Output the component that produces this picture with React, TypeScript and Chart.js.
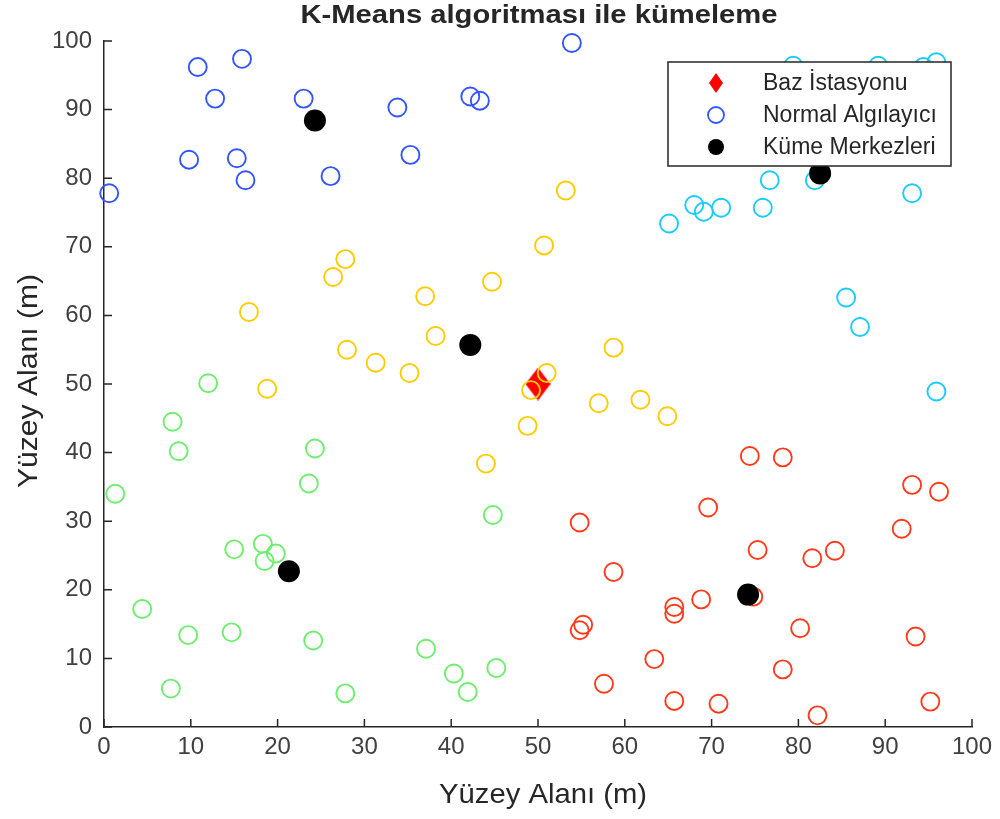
import { useEffect, useRef } from "react";
import { Chart, registerables } from "chart.js";

Chart.register(...registerables);

// Normal sensors, grouped by the cluster they were assigned to
const blueX = [0.6, 10.8, 15.9, 12.8, 9.8, 15.3, 16.3, 23.0, 26.1, 33.8, 35.3, 42.2, 43.3, 53.9];
const blueY = [77.8, 96.2, 97.4, 91.6, 82.7, 82.9, 79.7, 91.6, 80.3, 90.3, 83.4, 91.9, 91.3, 99.7];

const cyanX = [79.4, 89.2, 94.4, 95.9, 76.7, 81.9, 93.1, 68.0, 69.1, 71.1, 75.9, 65.1, 85.5, 87.1, 95.9];
const cyanY = [96.4, 96.4, 96.2, 96.9, 79.7, 79.7, 77.8, 76.1, 75.1, 75.7, 75.7, 73.4, 62.6, 58.3, 48.9];

const yellowX = [53.2, 50.7, 27.8, 26.4, 44.7, 37.0, 16.7, 38.2, 28.0, 31.3, 35.2, 18.8, 51.0, 49.2, 48.8, 57.0, 58.7, 61.8, 64.9, 44.0];
const yellowY = [78.2, 70.2, 68.2, 65.6, 64.9, 62.8, 60.5, 57.0, 55.0, 53.1, 51.6, 49.3, 51.6, 49.1, 43.9, 47.2, 55.3, 47.7, 45.3, 38.4];

const greenX = [12.0, 7.9, 8.6, 24.3, 23.6, 1.3, 44.8, 15.0, 18.3, 19.8, 18.5, 4.4, 9.7, 14.7, 24.1, 37.1, 40.3, 45.2, 41.9, 7.7, 27.8];
const greenY = [50.1, 44.5, 40.2, 40.6, 35.5, 34.0, 30.9, 25.9, 26.7, 25.3, 24.2, 17.2, 13.4, 13.8, 12.6, 11.4, 7.8, 8.6, 5.1, 5.6, 4.9];

const redX = [74.4, 78.2, 93.1, 96.2, 69.6, 54.8, 91.9, 75.3, 84.2, 81.6, 58.7, 74.8, 68.8, 65.7, 65.7, 55.2, 54.8, 80.2, 93.5, 63.4, 78.2, 57.6, 65.7, 70.8, 95.2, 82.2];
const redY = [39.5, 39.3, 35.3, 34.3, 32.0, 29.8, 28.9, 25.8, 25.7, 24.6, 22.6, 19.0, 18.6, 17.5, 16.5, 14.9, 14.1, 14.4, 13.2, 9.9, 8.4, 6.3, 3.8, 3.4, 3.7, 1.7];

// Cluster centres and base station
const centerX = [24.3, 82.5, 42.2, 21.3, 74.2];
const centerY = [88.4, 80.7, 55.7, 22.7, 19.3];
const baseX = [50];
const baseY = [50];

const axisTicks = [0, 10, 20, 30, 40, 50, 60, 70, 80, 90, 100];

const TITLE = "K-Means algoritması ile kümeleme";
const X_LABEL = "Yüzey Alanı (m)";
const Y_LABEL = "Yüzey Alanı (m)";
const LEGEND_LABELS = ["Baz İstasyonu", "Normal Algılayıcı", "Küme Merkezleri"];

const FONT = "'Liberation Sans', Arial, Helvetica, sans-serif";
const AXIS_COLOR = "#262626";

const zip = (xs: number[], ys: number[]) => xs.map((x, i) => ({ x, y: ys[i] }));

function diamond(w: number, h: number, color: string) {
  const c = document.createElement("canvas");
  c.width = w;
  c.height = h;
  const g = c.getContext("2d")!;
  g.fillStyle = color;
  g.beginPath();
  g.moveTo(w / 2, 0);
  g.lineTo(w, h / 2);
  g.lineTo(w / 2, h);
  g.lineTo(0, h / 2);
  g.closePath();
  g.fill();
  return c;
}

// text stretched horizontally to a given width, centred on (cx, cy)
function fitText(
  ctx: CanvasRenderingContext2D,
  text: string,
  cx: number,
  cy: number,
  font: string,
  width: number,
  angle = 0
) {
  ctx.save();
  ctx.font = font;
  ctx.fillStyle = AXIS_COLOR;
  ctx.textAlign = "center";
  ctx.textBaseline = "middle";
  const natural = ctx.measureText(text).width;
  ctx.translate(cx, cy);
  ctx.rotate(angle);
  ctx.scale(width / natural, 1);
  ctx.fillText(text, 0, 0);
  ctx.restore();
}

const decorations = {
  id: "decorations",
  afterDraw(chart: any) {
    const ctx: CanvasRenderingContext2D = chart.ctx;
    const { x, y } = chart.scales;
    const area = chart.chartArea;

    // inward tick marks
    ctx.save();
    ctx.strokeStyle = AXIS_COLOR;
    ctx.lineWidth = 1.5;
    ctx.beginPath();
    for (const t of axisTicks) {
      const px = x.getPixelForValue(t);
      ctx.moveTo(px, area.bottom);
      ctx.lineTo(px, area.bottom - 8);
      const py = y.getPixelForValue(t);
      ctx.moveTo(area.left, py);
      ctx.lineTo(area.left + 8, py);
    }
    ctx.stroke();
    ctx.restore();

    // titles
    const midX = (area.left + area.right) / 2;
    const midY = (area.top + area.bottom) / 2;
    fitText(ctx, TITLE, midX + 1, 16, `bold 25px ${FONT}`, 477);
    fitText(ctx, X_LABEL, midX + 5, 795, `28px ${FONT}`, 208);
    fitText(ctx, Y_LABEL, 29, midY - 3, `28px ${FONT}`, 214, -Math.PI / 2);

    // legend box
    const lx = 668, ly = 62, lw = 283, lh = 104;
    ctx.save();
    ctx.fillStyle = "#ffffff";
    ctx.fillRect(lx, ly, lw, lh);
    ctx.strokeStyle = AXIS_COLOR;
    ctx.lineWidth = 1.5;
    ctx.strokeRect(lx, ly, lw, lh);

    const rows = [83, 115, 147];
    const mx = 716;
    ctx.drawImage(diamond(14, 20, "#ff0000"), mx - 7, rows[0] - 10);

    ctx.strokeStyle = "#3355ff";
    ctx.lineWidth = 1.8;
    ctx.beginPath();
    ctx.arc(mx, rows[1], 8, 0, Math.PI * 2);
    ctx.stroke();

    ctx.fillStyle = "#000000";
    ctx.beginPath();
    ctx.arc(mx, rows[2], 8, 0, Math.PI * 2);
    ctx.fill();

    ctx.fillStyle = AXIS_COLOR;
    ctx.font = `23px ${FONT}`;
    ctx.textAlign = "left";
    ctx.textBaseline = "middle";
    LEGEND_LABELS.forEach((t, i) => ctx.fillText(t, 763, rows[i] + 1));
    ctx.restore();
  },
};

function sensorSet(xs: number[], ys: number[], color: string) {
  return {
    data: zip(xs, ys),
    pointStyle: "circle",
    pointRadius: 9,
    pointBorderWidth: 1.9,
    pointBorderColor: color,
    pointBackgroundColor: "rgba(0,0,0,0)",
    clip: false,
    order: 2,
  };
}

export default function App() {
  const canvasRef = useRef<HTMLCanvasElement | null>(null);

  useEffect(() => {
    const canvas = canvasRef.current!;
    const tickFont = { family: FONT, size: 24 };

    const chart = new Chart(canvas, {
      type: "scatter",
      data: {
        datasets: [
          {
            label: "Küme Merkezleri",
            data: zip(centerX, centerY),
            pointStyle: "circle",
            pointRadius: 11,
            pointBorderWidth: 0,
            pointBackgroundColor: "#000000",
            clip: false,
            order: 1,
          },
          sensorSet(blueX, blueY, "#3355ff"),
          sensorSet(cyanX, cyanY, "#18ccff"),
          sensorSet(yellowX, yellowY, "#ffcc00"),
          sensorSet(greenX, greenY, "#6eee6e"),
          sensorSet(redX, redY, "#ff3a1a"),
          {
            label: "Baz İstasyonu",
            data: zip(baseX, baseY),
            pointStyle: diamond(25, 33, "#ff0000"),
            pointRadius: 14,
            clip: false,
            order: 3,
          },
        ] as any,
      },
      options: {
        responsive: false,
        animation: false,
        devicePixelRatio: 1,
        layout: { padding: { top: 41, right: 28, bottom: 0, left: 0 } },
        plugins: {
          legend: { display: false },
          title: { display: false },
          tooltip: { enabled: false },
        },
        scales: {
          x: {
            type: "linear",
            min: 0,
            max: 100,
            afterFit: (s: any) => {
              s.height = 92;
            },
            afterBuildTicks: (s: any) => {
              s.ticks = axisTicks.map((v) => ({ value: v }));
            },
            grid: { display: false, drawTicks: false },
            border: { display: true, color: AXIS_COLOR, width: 1.5 },
            ticks: { color: "#404040", font: tickFont, padding: 6, maxRotation: 0, autoSkip: false },
          },
          y: {
            type: "linear",
            min: 0,
            max: 100,
            afterFit: (s: any) => {
              s.width = 104;
            },
            afterBuildTicks: (s: any) => {
              s.ticks = axisTicks.map((v) => ({ value: v }));
            },
            grid: { display: false, drawTicks: false },
            border: { display: true, color: AXIS_COLOR, width: 1.5 },
            ticks: { color: "#404040", font: tickFont, padding: 12, autoSkip: false },
          },
        },
      } as any,
      plugins: [decorations],
    });

    return () => chart.destroy();
  }, []);

  return (
    <div style={{ position: "fixed", left: 0, top: 0, width: 1000, height: 819, background: "#ffffff" }}>
      <canvas ref={canvasRef} width={1000} height={819} style={{ display: "block" }} />
    </div>
  );
}
